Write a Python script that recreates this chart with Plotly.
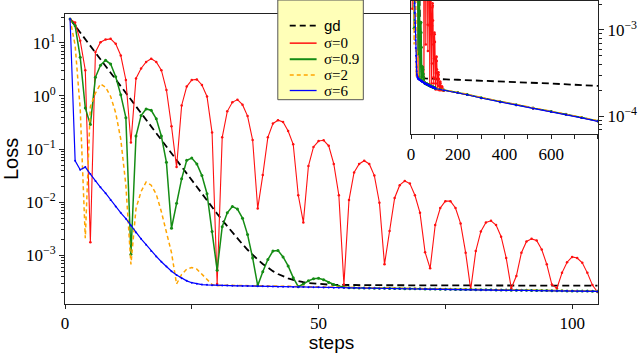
import plotly.graph_objects as go

# ---------------- data (log10 of loss) ----------------
steps = list(range(1, 106))

gd_steps = list(range(1, 56)) + [60, 65, 70, 75, 80, 85, 90, 95, 100, 105]
gd_log10 = [1.446, 1.319, 1.192, 1.065, 0.938, 0.811, 0.684, 0.557, 0.430, 0.303,
            0.176, 0.049, -0.078, -0.205, -0.332, -0.459, -0.586, -0.713, -0.840, -0.967,
            -1.094, -1.221, -1.345, -1.472, -1.597, -1.723, -1.848, -1.972, -2.095, -2.217,
            -2.338, -2.456, -2.572, -2.684, -2.792, -2.895, -2.991, -3.081, -3.162, -3.234,
            -3.298, -3.352, -3.397, -3.433, -3.463, -3.487, -3.506, -3.520, -3.531, -3.540,
            -3.546, -3.551, -3.555, -3.557, -3.560,
            -3.562, -3.563, -3.564, -3.565, -3.566, -3.567, -3.568, -3.569, -3.570, -3.572]

sigma0_log10 = [1.446, 1.38, 1.04, 0.485, -2.755, 0.825, 1.01, 1.06, 1.074, 0.98,
                0.76, 0.30, -0.877, 0.33, 0.517, 0.64, 0.70, 0.64, 0.485, 0.113,
                -0.57, -1.34, -0.18, 0.175, 0.30, 0.31, 0.206, -0.01, -0.69, -3.54,
                -0.78, -0.29, -0.12, -0.07, -0.165, -0.38, -0.83, -2.12, -1.49, -0.78,
                -0.52, -0.457, -0.49, -0.66, -0.91, -1.87, -2.38, -1.32, -0.96, -0.85,
                -0.835, -0.94, -1.28, -1.87, -3.55, -1.96, -1.44, -1.28, -1.22, -1.28,
                -1.50, -2.01, -3.17, -2.54, -1.92, -1.68, -1.60, -1.65, -1.87, -2.20,
                -2.94, -3.245, -2.43, -2.11, -1.98, -1.98, -2.11, -2.40, -2.95, -3.64,
                -2.92, -2.55, -2.38, -2.35, -2.43, -2.65, -3.05, -3.62, -3.39, -2.95,
                -2.74, -2.69, -2.72, -2.89, -3.17, -3.55, -3.62, -3.33, -3.13, -3.03,
                -3.05, -3.14, -3.33, -3.56, -3.69]

# sigma=0.9, steps 1..55 (afterwards on the converged curve)
sigma09_head_log10 = [1.446, 1.32, 0.73, -0.227, -0.54, 0.35, 0.578, 0.67, 0.60, 0.36,
                      0.02, -0.41, -2.98, -0.755, -0.37, -0.245, -0.27, -0.43, -0.755, -1.25,
                      -2.49, -2.02, -1.56, -1.21, -1.17, -1.28, -1.50, -1.84, -2.55, -3.28,
                      -2.46, -2.20, -2.08, -2.13, -2.30, -2.61, -3.05, -3.57, -3.31, -3.08,
                      -2.92, -2.91, -3.03, -3.20, -3.42, -3.59, -3.54, -3.48, -3.44, -3.43,
                      -3.46, -3.51, -3.55, -3.58, -3.60]

# sigma=2, steps 1..30
sigma2_head_log10 = [1.446, 0.95, -0.25, -2.68, -0.20, 0.05, 0.225, 0.164, -0.01, -0.32,
                     -0.816, -1.68, -3.17, -2.12, -1.80, -1.62, -1.68, -1.85, -2.18, -2.55,
                     -2.95, -3.54, -3.36, -3.26, -3.23, -3.26, -3.36, -3.47, -3.55, -3.575]

# sigma=6, steps 1..30
sigma6_head_log10 = [1.446, -1.22, -1.39, -1.34, -1.47, -1.60, -1.72, -1.83, -1.96, -2.08,
                     -2.20, -2.31, -2.44, -2.57, -2.69, -2.80, -2.92, -3.02, -3.12, -3.21,
                     -3.30, -3.37, -3.43, -3.48, -3.515, -3.535, -3.55, -3.556, -3.561, -3.565]

# converged curve shared by the noisy runs, steps 31..105
converged_log10 = [-3.567, -3.569, -3.571, -3.573, -3.575, -3.577, -3.579, -3.581, -3.583, -3.585,
                   -3.587, -3.589, -3.591, -3.593, -3.595, -3.597, -3.598, -3.600, -3.601, -3.603,
                   -3.605, -3.607, -3.608, -3.610, -3.612, -3.614, -3.615, -3.617, -3.618, -3.620,
                   -3.621, -3.623, -3.624, -3.626, -3.627, -3.628, -3.630, -3.631, -3.633, -3.634,
                   -3.635, -3.637, -3.638, -3.640, -3.641, -3.642, -3.644, -3.645, -3.647, -3.648,
                   -3.649, -3.651, -3.652, -3.653, -3.655, -3.656, -3.657, -3.658, -3.660, -3.661,
                   -3.662, -3.663, -3.665, -3.666, -3.667, -3.668, -3.669, -3.671, -3.672, -3.673,
                   -3.674, -3.675, -3.676, -3.678, -3.679]

# long run (inset): sigma=0 keeps oscillating until ~140 steps
sigma0_ext_steps = list(range(106, 141))
sigma0_ext_log10 = [-3.50, -3.36, -3.31, -3.31, -3.36, -3.46, -3.62, -3.69, -3.58, -3.51,
                    -3.49, -3.495, -3.52, -3.57, -3.65, -3.70, -3.64, -3.61, -3.60, -3.60,
                    -3.62, -3.66, -3.70, -3.69, -3.67, -3.66, -3.655, -3.66, -3.675, -3.69,
                    -3.70, -3.70, -3.70, -3.70, -3.70]
long_steps = [141, 200, 240, 300, 381, 450, 522, 600, 663, 730, 800]
long_converged_log10 = [-3.70, -3.73, -3.752, -3.79, -3.836, -3.87, -3.91, -3.95, -3.98, -4.02, -4.06]
gd_long_steps = [150, 200, 300, 400, 500, 600, 700, 800]
gd_long_log10 = [-3.574, -3.578, -3.587, -3.598, -3.61, -3.622, -3.636, -3.65]

legend_names = ['gd', '\u03c3=0', '\u03c3=0.9', '\u03c3=2', '\u03c3=6']

y_tick_vals = [1e1, 1e0, 1e-1, 1e-2, 1e-3]
y_tick_text = ['10<sup>1</sup>', '10<sup>0</sup>', '10<sup>\u22121</sup>',
               '10<sup>\u22122</sup>', '10<sup>\u22123</sup>']
x_tick_vals = [0, 50, 100]
x_minor_vals = [25, 75]
inset_x_tick_vals = [0, 200, 400, 600]
inset_x_minor_vals = [100, 300, 500, 700, 800]
inset_y_tick_vals = [1e-3, 1e-4]
inset_y_tick_text = ['10<sup>\u22123</sup>', '10<sup>\u22124</sup>']


def lin(v):
    return [10 ** a for a in v]


# assemble series
s09_steps = list(range(1, 106))
s09_vals = sigma09_head_log10 + [a + 0.003 for a in converged_log10[25:]]
s2_steps = list(range(1, 106))
s2_vals = sigma2_head_log10 + [a + 0.006 for a in converged_log10]
s6_steps = list(range(1, 106))
s6_vals = sigma6_head_log10 + converged_log10

minor_main = [m * 10 ** e for e in range(-4, 2) for m in range(2, 10)]
minor_inset = [m * 10 ** e for e in range(-5, -2) for m in range(2, 10)]

RED = '#FF1010'
GREEN = '#148C14'
ORANGE = '#FFA500'
BLUE = '#0000FF'

SERIF = 'Liberation Serif, Times New Roman, Times, serif'
SANS = 'Liberation Sans, Arial, Helvetica, sans-serif'
TICKFONT = dict(family=SERIF, size=17, color='black')

series = [
    dict(x=gd_steps, y=gd_log10, xl=gd_long_steps, yl=gd_long_log10,
         line=dict(color='black', width=1.8, dash='7px,4px'), mode='lines', marker=None),
    dict(x=steps, y=sigma0_log10,
         xl=sigma0_ext_steps + long_steps, yl=sigma0_ext_log10 + long_converged_log10,
         line=dict(color=RED, width=1.1), mode='lines+markers', marker=dict(size=2.5, color=RED)),
    dict(x=s09_steps, y=s09_vals, xl=long_steps,
         yl=[a + 0.003 for a in long_converged_log10],
         line=dict(color=GREEN, width=1.5), mode='lines+markers', marker=dict(size=3, color=GREEN)),
    dict(x=s2_steps, y=s2_vals, xl=long_steps,
         yl=[a + 0.006 for a in long_converged_log10],
         line=dict(color=ORANGE, width=1.5, dash='4px,3px'), mode='lines', marker=None),
    dict(x=s6_steps, y=s6_vals, xl=long_steps, yl=long_converged_log10,
         line=dict(color=BLUE, width=1.2), mode='lines+markers', marker=dict(size=2, color=BLUE)),
]

fig = go.Figure()
for name, s in zip(legend_names, series):
    kw = dict(mode=s['mode'], line=s['line'])
    if s['marker'] is not None:
        kw['marker'] = s['marker']
    fig.add_trace(go.Scatter(x=s['x'], y=lin(s['y']), name=name, showlegend=False,
                             xaxis='x', yaxis='y', **kw))
for name, s in zip(legend_names, series):
    kw = dict(mode=s['mode'], line=s['line'])
    if s['marker'] is not None:
        kw['marker'] = s['marker']
    fig.add_trace(go.Scatter(x=s['x'] + s['xl'], y=lin(s['y'] + s['yl']), name=name,
                             showlegend=False, xaxis='x2', yaxis='y2', **kw))

# ---- legend box drawn as shapes + text (paper coordinates of the plot area) ----
W, H, L = 536.0, 307.0, 62.0


def px_x(p):
    return (p - L) / W


def px_y(p):
    return (H - p) / H


legend_rows_px = [25, 42.7, 59, 75, 90.7]
legend_line_styles = [dict(color='black', width=1.8, dash='6px,4px'),
                      dict(color=RED, width=1.5),
                      dict(color=GREEN, width=2),
                      dict(color=ORANGE, width=1.5, dash='4px,3px'),
                      dict(color=BLUE, width=1.3)]
shapes = [dict(type='rect', xref='paper', yref='paper', x0=px_x(276), x1=px_x(362),
               y0=px_y(100), y1=px_y(-1), fillcolor='#FFFFB8',
               line=dict(color='#555555', width=1), layer='above')]
annotations = []
for i, (name, row, st) in enumerate(zip(legend_names, legend_rows_px, legend_line_styles)):
    shapes.append(dict(type='line', xref='paper', yref='paper', x0=px_x(288), x1=px_x(315),
                       y0=px_y(row), y1=px_y(row), line=st, layer='above'))
    annotations.append(dict(xref='paper', yref='paper', x=px_x(320), y=px_y(row),
                            xanchor='left', yanchor='middle', showarrow=False, text=name,
                            font=dict(family=SANS if i == 0 else SERIF, size=15, color='black')))

axis_common = dict(showline=True, linecolor='#222', linewidth=1, mirror=True,
                   showgrid=False, zeroline=False, ticks='outside', tickcolor='#222',
                   tickwidth=1, tickfont=TICKFONT)

fig.update_layout(
    width=640, height=353,
    margin=dict(l=62, r=42, t=0, b=46),
    paper_bgcolor='white', plot_bgcolor='white',
    showlegend=False,
    font=dict(family=SERIF, size=17, color='black'),
    xaxis=dict(domain=[0, 1], range=[0, 105.1], tickmode='array', tickvals=x_tick_vals,
               ticktext=[str(v) for v in x_tick_vals], ticklen=4, anchor='y',
               minor=dict(tickmode='array', tickvals=x_minor_vals, ticklen=4, ticks='outside',
                          tickcolor='#222'),
               title=dict(text='steps', font=dict(family=SANS, size=19), standoff=6),
               **axis_common),
    yaxis=dict(domain=[0, 0.9577], type='log', range=[-3.916, 1.545], tickmode='array',
               tickvals=y_tick_vals, ticktext=y_tick_text, ticklen=5, anchor='x',
               minor=dict(tickmode='array', tickvals=minor_main, ticklen=3, ticks='outside',
                          tickcolor='#222'),
               title=dict(text='Loss', font=dict(family=SANS, size=20), standoff=12),
               **axis_common),
    xaxis2=dict(domain=[0.6493, 1], range=[0, 800], anchor='y2', tickmode='array',
                tickvals=inset_x_tick_vals, ticktext=[str(v) for v in inset_x_tick_vals],
                ticklen=4,
                minor=dict(tickmode='array', tickvals=inset_x_minor_vals, ticklen=4,
                           ticks='outside', tickcolor='#222'),
                **axis_common),
    yaxis2=dict(domain=[0.5603, 1], type='log', range=[-4.21, -2.664], anchor='x2', side='right',
                tickmode='array', tickvals=inset_y_tick_vals, ticktext=inset_y_tick_text,
                ticklen=5,
                minor=dict(tickmode='array', tickvals=minor_inset, ticklen=3, ticks='outside',
                           tickcolor='#222'),
                **axis_common),
    shapes=shapes,
    annotations=annotations,
)

fig.write_html('out.html', config={'displayModeBar': False},
               post_script="document.body.style.margin='0';document.body.style.overflow='hidden';")
